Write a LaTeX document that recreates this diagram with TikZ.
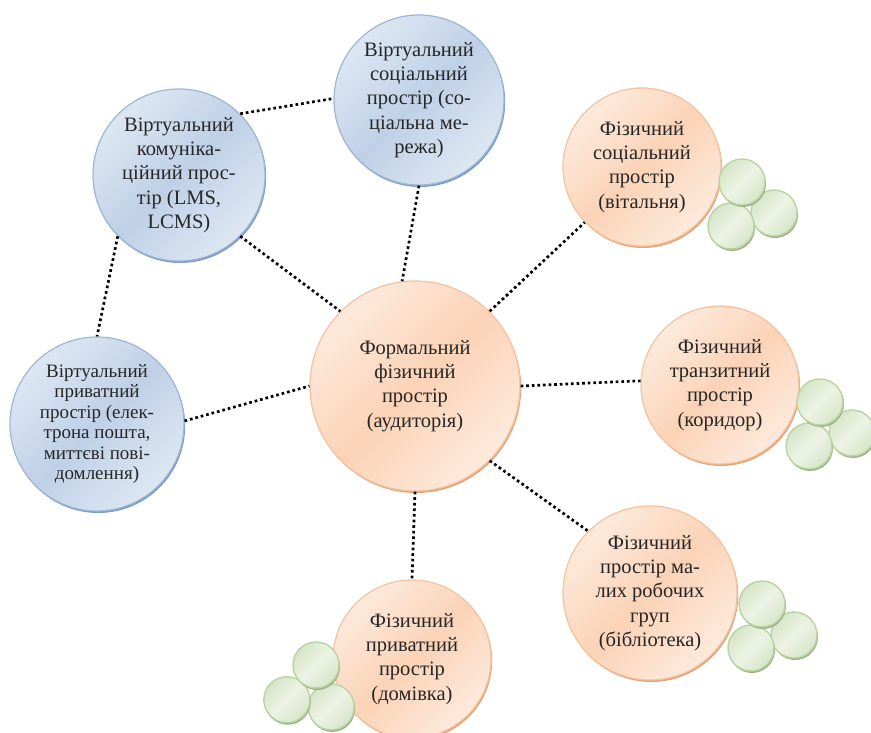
\documentclass[tikz,border=0pt]{standalone}
\usepackage{fontspec}
\usepackage{xcolor}
\setmainfont{Liberation Serif}
\usetikzlibrary{shadows}
\definecolor{blueedge}{HTML}{9DB6D6}
\definecolor{blueshadow}{HTML}{7F9CC2}
\definecolor{bluedark}{HTML}{BFD0E6}
\definecolor{bluelight}{HTML}{DDE7F3}
\definecolor{orangeedge}{HTML}{F6C19C}
\definecolor{orangeshadow}{HTML}{DFA67E}
\definecolor{orangedark}{HTML}{FBD3B7}
\definecolor{orangelight}{HTML}{FDEADC}
\definecolor{peaedge}{HTML}{B9D4A0}
\definecolor{peashadow}{HTML}{9DB088}
\definecolor{pealight}{HTML}{EDF3E5}
\definecolor{peadark}{HTML}{D6E5C8}
\tikzset{
  space/.style={circle, inner sep=0pt, align=center, text=black!85, font=\fontsize{20.5}{24.3}\selectfont, line width=1.2pt},
  virtual/.style={space, draw=blueedge, left color=bluelight, right color=bluelight, middle color=bluedark, shading angle=45,
    drop shadow={shadow xshift=1.2pt, shadow yshift=-2pt, fill=blueshadow, opacity=1}},
  physical/.style={space, draw=orangeedge, left color=orangelight, right color=orangelight, middle color=orangedark, shading angle=45,
    drop shadow={shadow xshift=1.2pt, shadow yshift=-2pt, fill=orangeshadow, opacity=1}},
  pea/.style={circle, minimum size=46pt, inner sep=0pt, line width=1.4pt, draw=peaedge,
    left color=peadark, right color=peadark, middle color=pealight, shading angle=45,
    drop shadow={shadow xshift=1pt, shadow yshift=-2pt, fill=peashadow, opacity=1}},
  link/.style={line width=2.7pt, dash pattern=on 2.7pt off 2.9pt},
  peas/.pic={
    \node[pea] (-right) at (32,31) {};
    \node[pea] (-left) at (-11,44) {};
    \node[pea] (-top) at (0,0) {};
  },
}
\begin{document}
\begin{tikzpicture}[x=1pt, y=-1pt]
  \useasboundingbox (0,0) rectangle (871,733);
  % blue circles
  \node[virtual, minimum size=170pt] (social) at (419,100) {Віртуальний\\соціальний\\простір (со-\\ціальна ме-\\режа)};
  \node[virtual, minimum size=172pt] (comm) at (179,175) {Віртуальний\\комуніка-\\ційний прос-\\тір (LMS,\\LCMS)};
  \node[virtual, minimum size=174pt, font=\fontsize{19}{20.5}\selectfont] (private) at (97,424) {Віртуальний\\приватний\\простір (елек-\\трона пошта,\\миттєві пові-\\домлення)};
  % orange circles
  \node[physical, minimum size=210pt] (formal) at (415,386) {Формальний\\фізичний\\простір\\(аудиторія)};
  \node[physical, minimum size=158pt] (lounge) at (642,167) {Фізичний\\соціальний\\простір\\(вітальня)};
  \node[physical, minimum size=158pt] (corridor) at (720,385) {Фізичний\\транзитний\\простір\\(коридор)};
  \node[physical, minimum size=174pt] (library) at (650,593) {Фізичний\\простір ма-\\лих робочих\\груп\\(бібліотека)};
  \node[physical, minimum size=158pt] (home) at (412,659) {Фізичний\\приватний\\простір\\(домівка)};
  % green clusters
  \pic (a) at (742,182) {peas};
  \pic (b) at (820,402) {peas};
  \pic (c) at (762,604) {peas};
  \pic[rotate=-26] (d) at (316,665) {peas};
  % dotted links
  \draw[link] (comm.45) -- (social.179);
  \draw[link] (social.270) -- (formal.97);
  \draw[link] (comm.-45) -- (formal.135);
  \draw[link] (comm.225) -- (private.90);
  \draw[link] (private.2) -- (formal.180);
  \draw[link] (formal.45) -- (lounge.224);
  \draw[link] (formal.0) -- (corridor.177);
  \draw[link] (formal.-45) -- (library.135);
  \draw[link] (formal.270) -- (home.90);
\end{tikzpicture}
\end{document}
